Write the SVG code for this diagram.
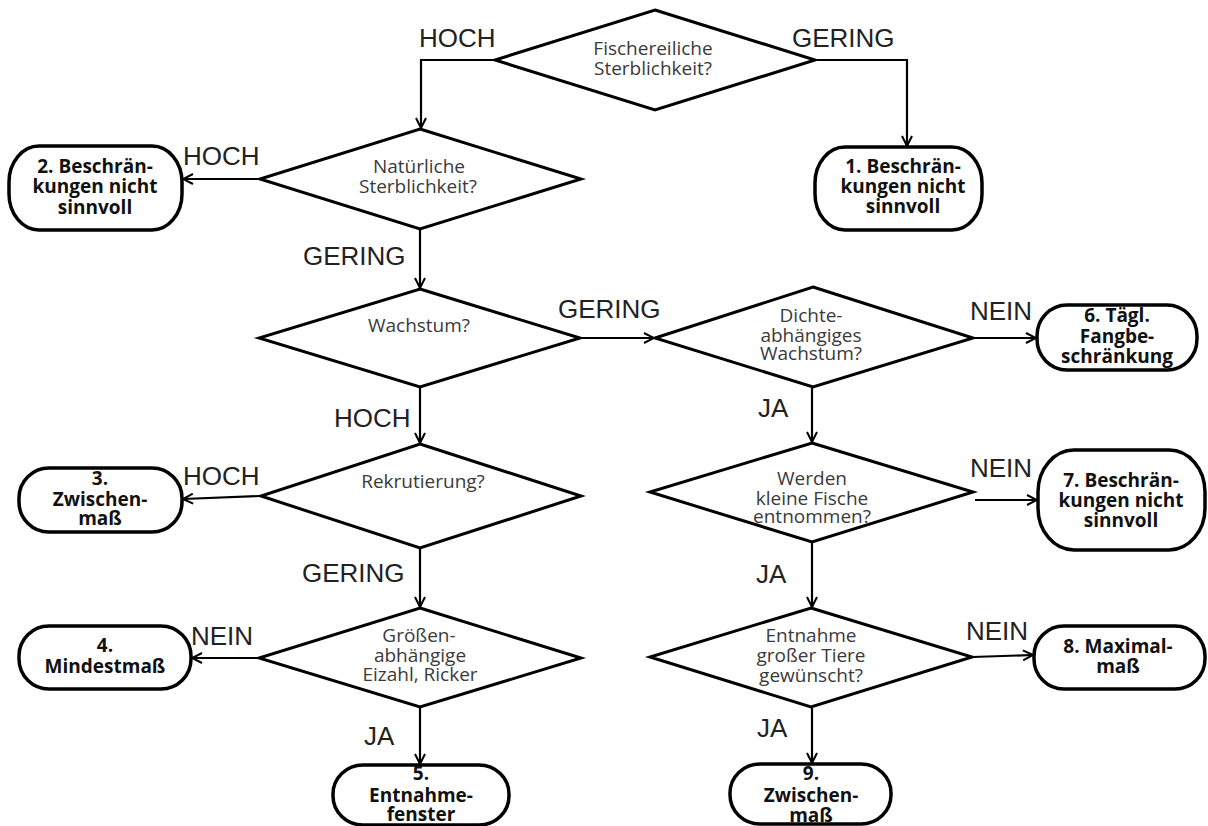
<svg xmlns="http://www.w3.org/2000/svg" width="1208" height="826" viewBox="0 0 1208 826">
<style>
.dia{fill:#fff;stroke:#000;stroke-width:3;stroke-linejoin:miter}
.term{fill:#fff;stroke:#000;stroke-width:3.5}
.q{font-family:"Open Sans","Noto Sans",sans-serif;font-size:19px;fill:#3a3a3a;text-anchor:middle}
.t{font-family:"Open Sans","Noto Sans",sans-serif;font-size:19px;font-weight:bold;fill:#111;text-anchor:middle}
.lbl{font-family:"Liberation Sans",Arial,sans-serif;font-size:26px;fill:#222}
.c{fill:none;stroke:#000;stroke-width:2.2}
</style>
<defs>
<marker id="arr" viewBox="0 0 12 12" refX="11" refY="6" markerWidth="12" markerHeight="12" markerUnits="userSpaceOnUse" orient="auto">
<path d="M1,1 L11,6 L1,11" fill="none" stroke="#000" stroke-width="2"/>
</marker>
</defs>
<rect width="1208" height="826" fill="#fff"/>

<g id="connectors">
<polyline class="c" points="495,60 421,60 421,128" marker-end="url(#arr)"/>
<polyline class="c" points="815,60 907,60 907,146" marker-end="url(#arr)"/>
<line class="c" x1="260" y1="179" x2="183" y2="179" marker-end="url(#arr)"/>
<line class="c" x1="420" y1="229" x2="420" y2="288" marker-end="url(#arr)"/>
<line class="c" x1="580" y1="338" x2="654" y2="338" marker-end="url(#arr)"/>
<line class="c" x1="420" y1="387" x2="420" y2="443" marker-end="url(#arr)"/>
<line class="c" x1="261" y1="496" x2="183" y2="499" marker-end="url(#arr)"/>
<line class="c" x1="420" y1="548" x2="420" y2="607" marker-end="url(#arr)"/>
<line class="c" x1="259" y1="658" x2="192" y2="658" marker-end="url(#arr)"/>
<line class="c" x1="420" y1="707" x2="420" y2="764" marker-end="url(#arr)"/>
<line class="c" x1="973" y1="338" x2="1036" y2="338" marker-end="url(#arr)"/>
<line class="c" x1="812" y1="387" x2="812" y2="442" marker-end="url(#arr)"/>
<line class="c" x1="975" y1="500" x2="1037" y2="500" marker-end="url(#arr)"/>
<line class="c" x1="812" y1="542" x2="812" y2="607" marker-end="url(#arr)"/>
<line class="c" x1="972" y1="657" x2="1033" y2="655" marker-end="url(#arr)"/>
<line class="c" x1="812" y1="707" x2="812" y2="763" marker-end="url(#arr)"/>
<text class="lbl" x="419" y="47">HOCH</text>
<text class="lbl" x="792" y="47">GERING</text>
<text class="lbl" x="183" y="165">HOCH</text>
<text class="lbl" x="303" y="265">GERING</text>
<text class="lbl" x="558" y="318">GERING</text>
<text class="lbl" x="334" y="427">HOCH</text>
<text class="lbl" x="183" y="485">HOCH</text>
<text class="lbl" x="302" y="582">GERING</text>
<text class="lbl" x="191" y="645">NEIN</text>
<text class="lbl" x="364" y="745">JA</text>
<text class="lbl" x="970" y="320">NEIN</text>
<text class="lbl" x="758" y="417">JA</text>
<text class="lbl" x="970" y="477">NEIN</text>
<text class="lbl" x="756" y="583">JA</text>
<text class="lbl" x="966" y="640">NEIN</text>
<text class="lbl" x="757" y="737">JA</text>
</g>

<g id="d1"><polygon class="dia" points="655,10 815,60 655,110 495,60"/>
<text class="q" x="653" y="55">Fischereiliche</text><text class="q" x="653" y="75">Sterblichkeit?</text></g>
<g id="d2"><polygon class="dia" points="420,129 581,179 420,229 260,179"/>
<text class="q" x="419" y="173">Natürliche</text><text class="q" x="418" y="193">Sterblichkeit?</text></g>
<g id="d3"><polygon class="dia" points="420,289 580,338 420,387 259,338"/>
<text class="q" x="419" y="332">Wachstum?</text></g>
<g id="d4"><polygon class="dia" points="420,444 581,496 420,548 261,496"/>
<text class="q" x="423" y="488">Rekrutierung?</text></g>
<g id="d5"><polygon class="dia" points="420,608 581,658 420,707 259,658"/>
<text class="q" x="419" y="642">Größen-</text><text class="q" x="420" y="662">abhängige</text><text class="q" x="420" y="681">Eizahl, Ricker</text></g>
<g id="d6"><polygon class="dia" points="813,287 973,338 813,387 655,338"/>
<text class="q" x="811" y="322">Dichte-</text><text class="q" x="811" y="342">abhängiges</text><text class="q" x="811" y="360">Wachstum?</text></g>
<g id="d7"><polygon class="dia" points="812,443 973,492 812,542 650,492"/>
<text class="q" x="812" y="485">Werden</text><text class="q" x="812" y="505">kleine Fische</text><text class="q" x="812" y="523">entnommen?</text></g>
<g id="d8"><polygon class="dia" points="811,608 972,657 811,707 650,657"/>
<text class="q" x="811" y="642">Entnahme</text><text class="q" x="811" y="662">großer Tiere</text><text class="q" x="811" y="682">gewünscht?</text></g>

<g id="n1"><rect class="term" x="815" y="147" width="167" height="83" rx="30" ry="36"/>
<text class="t" x="903" y="173">1. Beschrän-</text><text class="t" x="903" y="193">kungen nicht</text><text class="t" x="903" y="213">sinnvoll</text></g>
<g id="n2"><rect class="term" x="9" y="146" width="173" height="84" rx="30" ry="36"/>
<text class="t" x="95" y="173">2. Beschrän-</text><text class="t" x="95" y="193">kungen nicht</text><text class="t" x="95" y="214">sinnvoll</text></g>
<g id="n3"><rect class="term" x="19" y="468" width="163" height="64" rx="30" ry="30"/>
<text class="t" x="100" y="485">3.</text><text class="t" x="100" y="506">Zwischen-</text><text class="t" x="100" y="525">maß</text></g>
<g id="n4"><rect class="term" x="19" y="626" width="172" height="63" rx="30" ry="30"/>
<text class="t" x="105" y="652">4.</text><text class="t" x="105" y="673">Mindestmaß</text></g>
<g id="n5"><rect class="term" x="333" y="765" width="176" height="60" rx="30" ry="29"/>
<text class="t" x="421" y="780">5.</text><text class="t" x="421" y="802">Entnahme-</text><text class="t" x="421" y="821">fenster</text></g>
<g id="n6"><rect class="term" x="1037" y="305" width="160" height="65" rx="30" ry="31"/>
<text class="t" x="1117" y="322">6. Tägl.</text><text class="t" x="1117" y="343">Fangbe-</text><text class="t" x="1117" y="363">schränkung</text></g>
<g id="n7"><rect class="term" x="1038" y="450" width="167" height="100" rx="36" ry="42"/>
<text class="t" x="1121" y="487">7. Beschrän-</text><text class="t" x="1121" y="507">kungen nicht</text><text class="t" x="1121" y="527">sinnvoll</text></g>
<g id="n8"><rect class="term" x="1034" y="626" width="171" height="63" rx="30" ry="30"/>
<text class="t" x="1118" y="653">8. Maximal-</text><text class="t" x="1118" y="673">maß</text></g>
<g id="n9"><rect class="term" x="730" y="764" width="161" height="60" rx="30" ry="29"/>
<text class="t" x="811" y="780">9.</text><text class="t" x="811" y="802">Zwischen-</text><text class="t" x="811" y="822">maß</text></g>
</svg>
